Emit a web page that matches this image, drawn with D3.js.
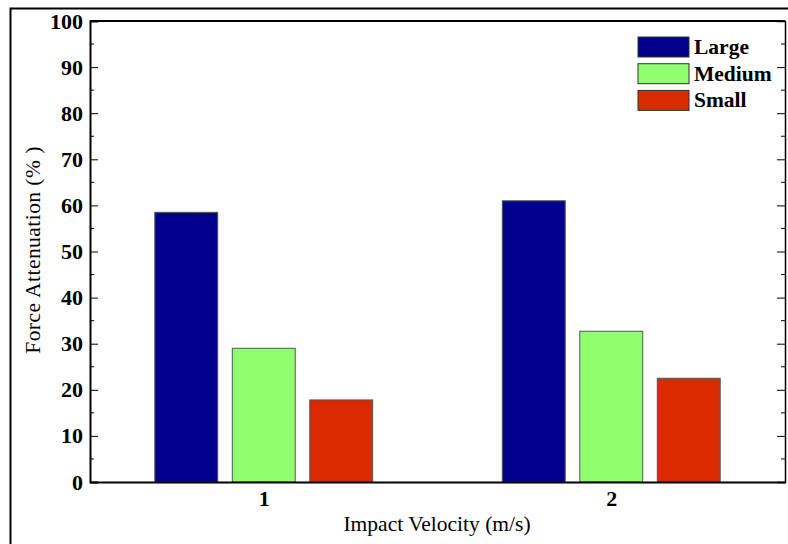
<!DOCTYPE html>
<html>
<head>
<meta charset="utf-8">
<script src="https://cdn.jsdelivr.net/npm/d3@7"></script>
<style>
  body { margin: 0; background: #fff; }
  text { font-family: "Liberation Serif", "Times New Roman", serif; }
</style>
</head>
<body>
<svg width="788" height="544"></svg>
<script>
var categories = [1, 2];
var series = ["Large", "Medium", "Small"];
var large = [58.5, 61];
var medium = [29, 32.7];
var small = [17.8, 22.5];
var colors = ["#00008c", "#90ff70", "#dc2a00"];
var yTicks = [0, 10, 20, 30, 40, 50, 60, 70, 80, 90, 100];

function main() {
    var svg = d3.select("svg"),
        margin = {top: 21, right: 3, bottom: 62, left: 90},
        width = svg.attr("width") - margin.left - margin.right,
        height = svg.attr("height") - margin.top - margin.bottom;

    // outer figure frame
    svg.append("rect")
        .attr("x", 10.5).attr("y", 8.5)
        .attr("width", 900).attr("height", 700)
        .attr("fill", "none").attr("stroke", "#000").attr("stroke-width", 2);

    var g = svg.append("g")
        .attr("transform", `translate(${margin.left},${margin.top})`);

    var x = d3.scaleLinear().domain([0.5, 2.5]).range([0, width]);
    var y = d3.scaleLinear().domain([0, 100]).range([height, 0]);

    var values = [large, medium, small];
    var bw = 0.181, step = 0.223;

    // bars
    values.forEach(function(vals, s) {
        g.selectAll(".bar" + s)
          .data(vals)
          .join("rect")
            .attr("x", (d, i) => x(categories[i] + (s - 1) * step - bw / 2))
            .attr("y", d => y(d))
            .attr("width", x(bw) - x(0))
            .attr("height", d => height - y(d))
            .attr("fill", colors[s])
            .attr("stroke", "#555")
            .attr("stroke-width", 1);
    });

    // minor ticks
    var minor = d3.range(5, 100, 10);
    g.append("g").attr("class", "minor")
        .selectAll("line").data(minor).join("line")
        .attr("x1", 0).attr("x2", 4)
        .attr("y1", d => y(d)).attr("y2", d => y(d))
        .attr("stroke", "#000");
    g.append("g")
        .selectAll("line").data(minor).join("line")
        .attr("x1", width).attr("x2", width - 4)
        .attr("y1", d => y(d)).attr("y2", d => y(d))
        .attr("stroke", "#000");

    // left axis
    var yl = g.append("g")
        .call(d3.axisLeft(y).tickValues(yTicks).tickSize(-8).tickPadding(7));
    yl.select(".domain").attr("stroke-width", 2);
    yl.selectAll("text")
        .style("font-size", "22px").style("font-weight", "bold")
        .style("font-family", "'Liberation Serif', serif").attr("fill", "#000");

    // right axis
    var yr = g.append("g")
        .attr("transform", `translate(${width},0)`)
        .call(d3.axisRight(y).tickValues(yTicks).tickSize(-8).tickFormat(""));
    yr.select(".domain").attr("stroke-width", 1.5);

    // bottom axis
    var xb = g.append("g")
        .attr("transform", `translate(0,${height})`)
        .call(d3.axisBottom(x).tickValues(categories).tickSize(0).tickPadding(8).tickFormat(d3.format("d")));
    xb.select(".domain").attr("stroke-width", 2);
    xb.selectAll("text")
        .style("font-size", "22px").style("font-weight", "bold")
        .style("font-family", "'Liberation Serif', serif").attr("fill", "#000");

    // top axis
    g.append("line")
        .attr("x1", 0).attr("x2", width).attr("y1", 0).attr("y2", 0)
        .attr("stroke", "#000").attr("stroke-width", 2);

    // axis titles
    svg.append("text")
        .attr("x", 437).attr("y", 531)
        .attr("text-anchor", "middle").style("font-size", "21.5px")
        .text("Impact Velocity (m/s)");
    svg.append("text")
        .attr("transform", "translate(40,250) rotate(-90)")
        .attr("text-anchor", "middle").style("font-size", "21.5px")
        .style("letter-spacing", "0.45px")
        .text("Force Attenuation (% )");

    // legend
    var leg = svg.append("g").attr("transform", "translate(638,37)");
    series.forEach(function(name, i) {
        leg.append("rect")
            .attr("x", 0).attr("y", i * 26.7)
            .attr("width", 51).attr("height", 20)
            .attr("fill", colors[i]).attr("stroke", "#333");
        leg.append("text")
            .attr("x", 56).attr("y", i * 26.7 + 17)
            .style("font-size", "21.5px").style("font-weight", "bold")
            .text(name);
    });
}
main();
</script>
</body>
</html>
